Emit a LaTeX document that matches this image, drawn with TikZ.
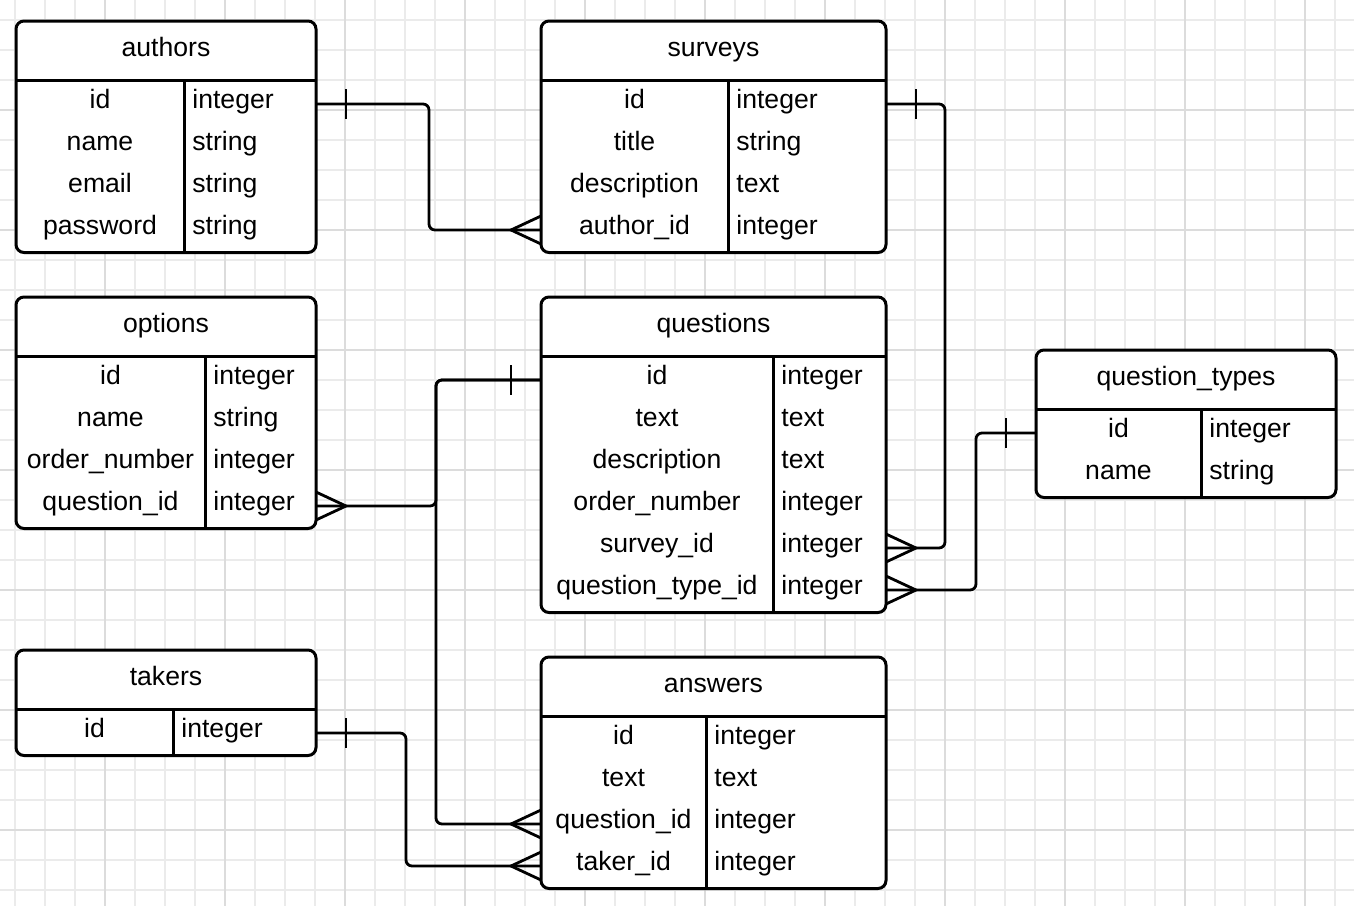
\documentclass[tikz,border=0pt]{standalone}
\usepackage{fontspec}
\setmainfont{Liberation Sans}
\usetikzlibrary{calc}
\definecolor{gridminor}{HTML}{EBEBEB}
\definecolor{gridmajor}{HTML}{DCDCDC}
\tikzset{
  erbox/.style={draw, line width=1.5pt, rounded corners=4pt, fill=white, inner sep=0pt, outer sep=0pt, anchor=north west},
  erline/.style={line width=1.5pt},
  ertext/.style={font=\fontsize{13.3}{16}\selectfont, inner sep=0pt},
  conn/.style={line width=1.4pt, rounded corners=3pt},
  crowmark/.style={line width=1.4pt},
  gridmin/.style={draw=gridminor, line width=0.9pt},
  gridmaj/.style={draw=gridmajor, line width=0.9pt},
}
\newcommand\ertable[8]{%
  \pgfmathsetmacro\ertY{#3+59.5}%
  \pgfmathsetmacro\ertB{\ertY+42*#6+4}%
  \pgfmathsetmacro\ertW{(#4-#2)*0.5}%
  \pgfmathsetmacro\ertH{(\ertB-#3)*0.5}%
  \node[erbox, minimum width=\ertW pt, minimum height=\ertH pt] (#1) at (#2,#3) {};
  \draw[erline] (#2,\ertY) -- (#4,\ertY);
  \draw[erline] (#5,\ertY) -- (#5,\ertB);
  \node[ertext, anchor=base] (#1-title) at ({(#2+#4)/2},{#3+35.5}) {#7};
  \foreach \ertF/\ertT [count=\i] in {#8} {
    \node[ertext, anchor=base] (#1-f\i) at ({(#2+#5)/2},{\ertY+27.5+42*(\i-1)}) {\ertF};
    \node[ertext, anchor=base west] (#1-t\i) at ({#5+8},{\ertY+27.5+42*(\i-1)}) {\ertT};
    \coordinate (#1-r\i-w) at (#2,{\ertY+23.5+42*(\i-1)});
    \coordinate (#1-r\i-e) at (#4,{\ertY+23.5+42*(\i-1)});
  }%
}
\newcommand\erone[2]{\draw[crowmark] ([shift={(#2,-15)}]#1) -- ([shift={(#2,15)}]#1);}
\newcommand\ermany[2]{\draw[crowmark] ([shift={(0,-14)}]#1) -- ([shift={(#2,0)}]#1) -- ([shift={(0,14)}]#1);}
\begin{document}
\begin{tikzpicture}[x=0.5pt,y=-0.5pt]
\useasboundingbox (0,0) rectangle (1354,906);
\fill[white] (0,0) rectangle (1354,906);
% grid
\foreach \x in {15,45,...,1354} \draw[gridmin] (\x,0) -- (\x,906);
\foreach \y in {20,50,...,906} \draw[gridmin] (0,\y) -- (1354,\y);
\foreach \x in {105,225,...,1354} \draw[gridmaj] (\x,0) -- (\x,906);
\foreach \y in {110,230,...,906} \draw[gridmaj] (0,\y) -- (1354,\y);
% tables
\ertable{authors}{16}{21}{316}{184}{4}{authors}{id/integer, name/string, email/string, password/string}
\ertable{surveys}{541}{21}{886}{728}{4}{surveys}{id/integer, title/string, description/text, author\_id/integer}
\ertable{options}{16}{297}{316}{205}{4}{options}{id/integer, name/string, order\_number/integer, question\_id/integer}
\ertable{questions}{541}{297}{886}{773}{6}{questions}{id/integer, text/text, description/text, order\_number/integer, survey\_id/integer, question\_type\_id/integer}
\ertable{qtypes}{1036}{350}{1336}{1201}{2}{question\_types}{id/integer, name/string}
\ertable{takers}{16}{650}{316}{173}{1}{takers}{id/integer}
\ertable{answers}{541}{657}{886}{706}{4}{answers}{id/integer, text/text, question\_id/integer, taker\_id/integer}
% connectors
\draw[conn] (authors-r1-e) -- ++(113,0) |- (surveys-r4-w);
\erone{authors-r1-e}{30}
\ermany{surveys-r4-w}{-30}
\draw[conn] (surveys-r1-e) -- ++(59,0) |- (questions-r5-e);
\erone{surveys-r1-e}{30}
\ermany{questions-r5-e}{30}
\draw[conn] (qtypes-r1-w) -- ++(-60,0) |- (questions-r6-e);
\erone{qtypes-r1-w}{-30}
\ermany{questions-r6-e}{30}
\draw[conn] (questions-r1-w) -- ++(-105,0) |- (options-r4-e);
\draw[conn] (questions-r1-w) -- ++(-105,0) |- (answers-r3-w);
\erone{questions-r1-w}{-30}
\ermany{options-r4-e}{30}
\ermany{answers-r3-w}{-30}
\draw[conn] (takers-r1-e) -- ++(90,0) |- (answers-r4-w);
\erone{takers-r1-e}{30}
\ermany{answers-r4-w}{-30}
\end{tikzpicture}
\end{document}
